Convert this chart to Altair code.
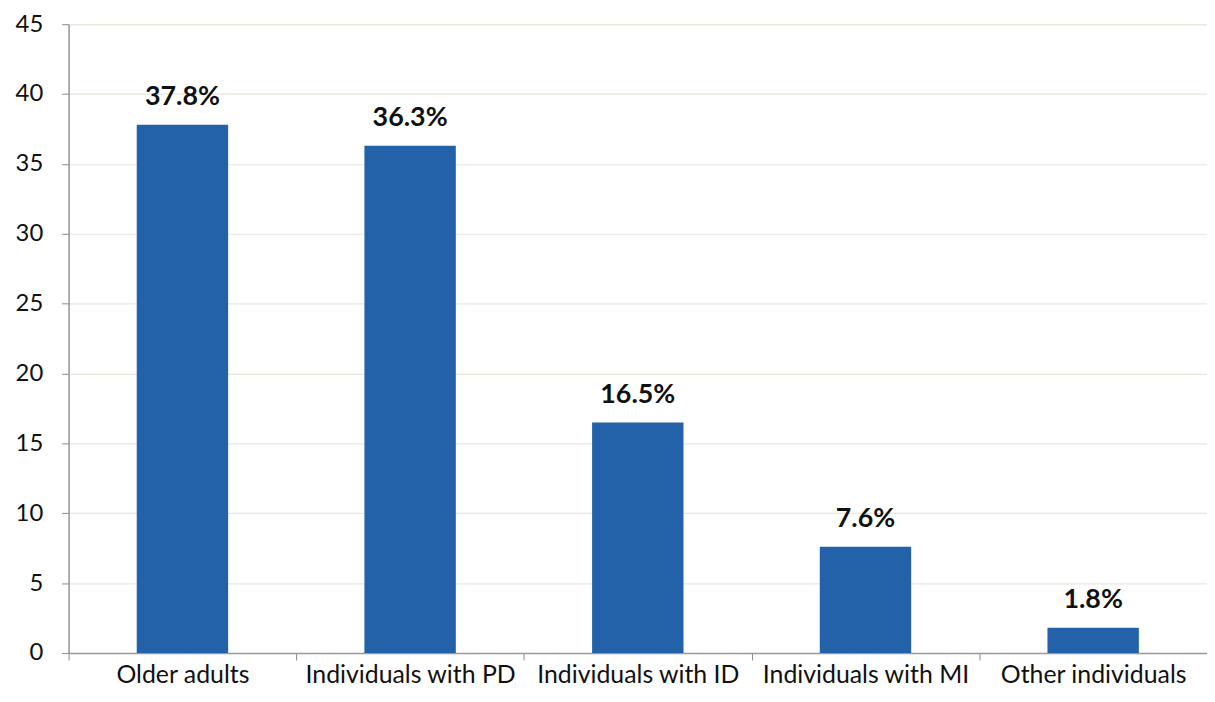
import altair as alt
import pandas as pd

categories = ["Older adults", "Individuals with PD", "Individuals with ID", "Individuals with MI", "Other individuals"]
values = [37.8, 36.3, 16.5, 7.6, 1.8]
labels = ["37.8%", "36.3%", "16.5%", "7.6%", "1.8%"]

df = pd.DataFrame({"cat": categories, "val": values, "lab": labels})

FONT = "Lato"

x = alt.X("cat:N", sort=categories, title=None,
          scale=alt.Scale(paddingInner=0, paddingOuter=0),
          axis=alt.Axis(labelAngle=0, labelFontSize=25, labelFont=FONT, labelColor="#111",
                        labelPadding=3, tickBand="extent", tickSize=7, tickColor="#888",
                        domainColor="#999", domainWidth=1.5, grid=False, labelLimit=300))
y = alt.Y("val:Q", title=None,
          scale=alt.Scale(domain=[0, 45], nice=False),
          axis=alt.Axis(values=list(range(0, 50, 5)), labelFontSize=24, labelFont=FONT,
                        labelColor="#111", labelPadding=19, tickSize=7, tickColor="#888",
                        domainColor="#999", domainWidth=1.5, grid=True, gridColor="#e9e6dc",
                        gridWidth=1.2))

bars = alt.Chart(df).mark_bar(color="#2361a8", size=92).encode(x=x, y=y)
text = alt.Chart(df).mark_text(dy=-28, font=FONT, fontSize=27, fontWeight="bold", color="#111").encode(
    x=alt.X("cat:N", sort=categories), y="val:Q", text="lab:N")

chart = (bars + text).properties(
    width=1146, height=633,
    padding={"left": 61, "top": 14, "right": 0, "bottom": 39},
    autosize=alt.AutoSizeParams(type="none"),
).configure_view(stroke=None).configure(background="white")

chart.save("out.html", embed_options={"renderer": "svg", "actions": False})
